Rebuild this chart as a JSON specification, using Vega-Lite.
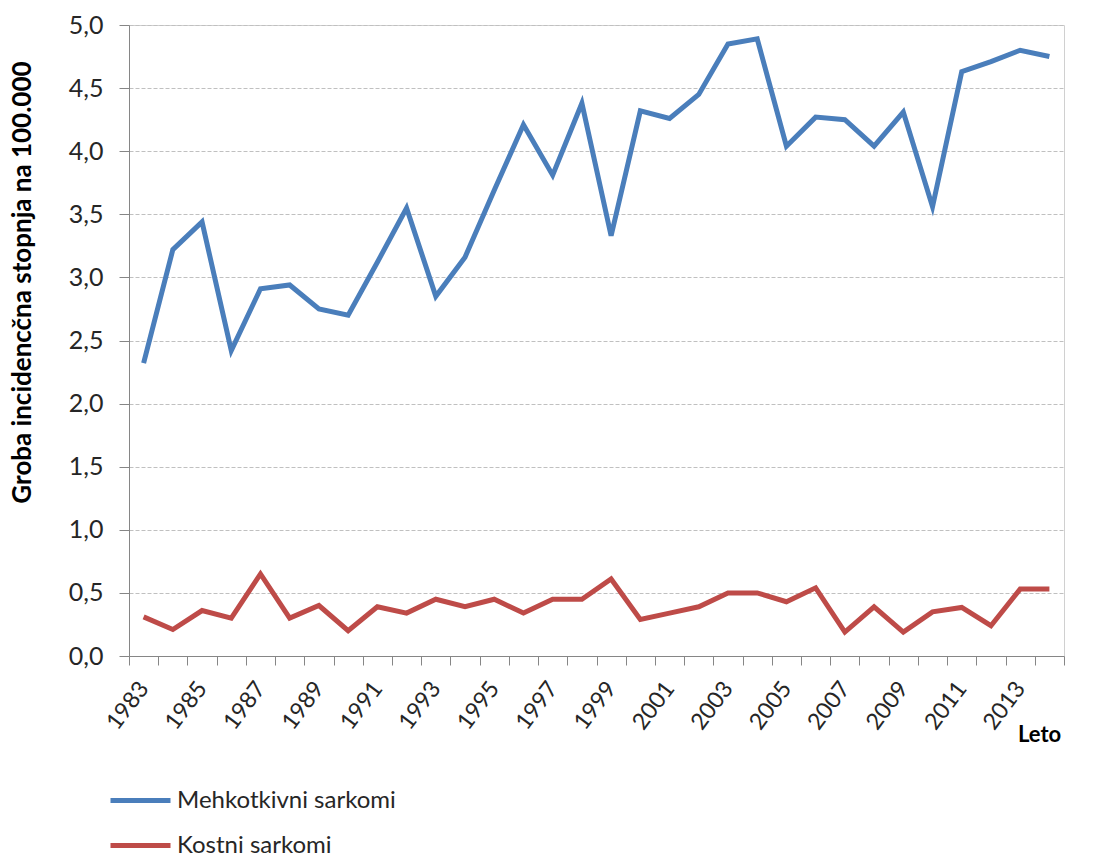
{
  "$schema": "https://vega.github.io/schema/vega-lite/v6.json",
  "width": 935,
  "height": 631,
  "autosize": "none",
  "padding": {"left": 129, "top": 25, "right": 32, "bottom": 200},
  "background": "white",
  "config": {
    "font": "Lato",
    "view": {"stroke": "#d0d0d0", "strokeWidth": 1}
  },
  "data": {
    "values": [
      {"year": 1983, "series": "Mehkotkivni sarkomi", "value": 2.32},
      {"year": 1984, "series": "Mehkotkivni sarkomi", "value": 3.22},
      {"year": 1985, "series": "Mehkotkivni sarkomi", "value": 3.44},
      {"year": 1986, "series": "Mehkotkivni sarkomi", "value": 2.42},
      {"year": 1987, "series": "Mehkotkivni sarkomi", "value": 2.91},
      {"year": 1988, "series": "Mehkotkivni sarkomi", "value": 2.94},
      {"year": 1989, "series": "Mehkotkivni sarkomi", "value": 2.75},
      {"year": 1990, "series": "Mehkotkivni sarkomi", "value": 2.70},
      {"year": 1991, "series": "Mehkotkivni sarkomi", "value": 3.12},
      {"year": 1992, "series": "Mehkotkivni sarkomi", "value": 3.55},
      {"year": 1993, "series": "Mehkotkivni sarkomi", "value": 2.85},
      {"year": 1994, "series": "Mehkotkivni sarkomi", "value": 3.16},
      {"year": 1995, "series": "Mehkotkivni sarkomi", "value": 3.69},
      {"year": 1996, "series": "Mehkotkivni sarkomi", "value": 4.21},
      {"year": 1997, "series": "Mehkotkivni sarkomi", "value": 3.81},
      {"year": 1998, "series": "Mehkotkivni sarkomi", "value": 4.38},
      {"year": 1999, "series": "Mehkotkivni sarkomi", "value": 3.33},
      {"year": 2000, "series": "Mehkotkivni sarkomi", "value": 4.32},
      {"year": 2001, "series": "Mehkotkivni sarkomi", "value": 4.26},
      {"year": 2002, "series": "Mehkotkivni sarkomi", "value": 4.45},
      {"year": 2003, "series": "Mehkotkivni sarkomi", "value": 4.85},
      {"year": 2004, "series": "Mehkotkivni sarkomi", "value": 4.89},
      {"year": 2005, "series": "Mehkotkivni sarkomi", "value": 4.04},
      {"year": 2006, "series": "Mehkotkivni sarkomi", "value": 4.27},
      {"year": 2007, "series": "Mehkotkivni sarkomi", "value": 4.25},
      {"year": 2008, "series": "Mehkotkivni sarkomi", "value": 4.04},
      {"year": 2009, "series": "Mehkotkivni sarkomi", "value": 4.31},
      {"year": 2010, "series": "Mehkotkivni sarkomi", "value": 3.56},
      {"year": 2011, "series": "Mehkotkivni sarkomi", "value": 4.63},
      {"year": 2012, "series": "Mehkotkivni sarkomi", "value": 4.71},
      {"year": 2013, "series": "Mehkotkivni sarkomi", "value": 4.80},
      {"year": 2014, "series": "Mehkotkivni sarkomi", "value": 4.75},
      {"year": 1983, "series": "Kostni sarkomi", "value": 0.31},
      {"year": 1984, "series": "Kostni sarkomi", "value": 0.21},
      {"year": 1985, "series": "Kostni sarkomi", "value": 0.36},
      {"year": 1986, "series": "Kostni sarkomi", "value": 0.30},
      {"year": 1987, "series": "Kostni sarkomi", "value": 0.65},
      {"year": 1988, "series": "Kostni sarkomi", "value": 0.30},
      {"year": 1989, "series": "Kostni sarkomi", "value": 0.40},
      {"year": 1990, "series": "Kostni sarkomi", "value": 0.20},
      {"year": 1991, "series": "Kostni sarkomi", "value": 0.39},
      {"year": 1992, "series": "Kostni sarkomi", "value": 0.34},
      {"year": 1993, "series": "Kostni sarkomi", "value": 0.45},
      {"year": 1994, "series": "Kostni sarkomi", "value": 0.39},
      {"year": 1995, "series": "Kostni sarkomi", "value": 0.45},
      {"year": 1996, "series": "Kostni sarkomi", "value": 0.34},
      {"year": 1997, "series": "Kostni sarkomi", "value": 0.45},
      {"year": 1998, "series": "Kostni sarkomi", "value": 0.45},
      {"year": 1999, "series": "Kostni sarkomi", "value": 0.61},
      {"year": 2000, "series": "Kostni sarkomi", "value": 0.29},
      {"year": 2001, "series": "Kostni sarkomi", "value": 0.34},
      {"year": 2002, "series": "Kostni sarkomi", "value": 0.39},
      {"year": 2003, "series": "Kostni sarkomi", "value": 0.50},
      {"year": 2004, "series": "Kostni sarkomi", "value": 0.50},
      {"year": 2005, "series": "Kostni sarkomi", "value": 0.43},
      {"year": 2006, "series": "Kostni sarkomi", "value": 0.54},
      {"year": 2007, "series": "Kostni sarkomi", "value": 0.19},
      {"year": 2008, "series": "Kostni sarkomi", "value": 0.39},
      {"year": 2009, "series": "Kostni sarkomi", "value": 0.19},
      {"year": 2010, "series": "Kostni sarkomi", "value": 0.35},
      {"year": 2011, "series": "Kostni sarkomi", "value": 0.385},
      {"year": 2012, "series": "Kostni sarkomi", "value": 0.24},
      {"year": 2013, "series": "Kostni sarkomi", "value": 0.53},
      {"year": 2014, "series": "Kostni sarkomi", "value": 0.53}
    ]
  },
  "mark": {"type": "line", "strokeWidth": 5, "strokeJoin": "miter", "strokeCap": "butt"},
  "encoding": {
    "x": {
      "field": "year",
      "type": "ordinal",
      "bandPosition": 0.5,
      "scale": {"type": "band", "paddingInner": 0, "paddingOuter": 0},
      "axis": {
        "title": "Leto",
        "titleFontSize": 22,
        "titleFontWeight": "bold",
        "titleColor": "#000000",
        "titleX": 910,
        "titleY": 78,
        "titleAlign": "center",
        "titleBaseline": "middle",
        "tickBand": "extent",
        "tickSize": 9,
        "tickColor": "#868686",
        "domainColor": "#868686",
        "labelAngle": -53,
        "labelAlign": "right",
        "labelBaseline": "middle",
        "labelFontSize": 23,
        "labelColor": "#262626",
        "labelPadding": 19,
        "labelDx": 5,
        "labelOverlap": false,
        "labelExpr": "datum.value % 2 == 1 ? datum.label : ''",
        "grid": false
      }
    },
    "y": {
      "field": "value",
      "type": "quantitative",
      "scale": {"domain": [0, 5], "nice": false, "zero": true},
      "axis": {
        "title": "Groba incidencčna stopnja na 100.000",
        "titleFontSize": 26,
        "titleFontWeight": "bold",
        "titleColor": "#000000",
        "titleAngle": -90,
        "titleX": -107,
        "titleY": 257,
        "titleAlign": "center",
        "titleBaseline": "middle",
        "values": [0, 0.5, 1, 1.5, 2, 2.5, 3, 3.5, 4, 4.5, 5],
        "labelExpr": "replace(format(datum.value, '.1f'), '.', ',')",
        "labelFontSize": 25,
        "labelColor": "#262626",
        "labelPadding": 16,
        "tickSize": 10,
        "tickColor": "#868686",
        "domainColor": "#868686",
        "gridColor": "#c0c0c0",
        "gridDash": [4, 2],
        "gridWidth": 1
      }
    },
    "color": {
      "field": "series",
      "type": "nominal",
      "scale": {
        "domain": ["Mehkotkivni sarkomi", "Kostni sarkomi"],
        "range": ["#4a7ebb", "#be4b48"]
      },
      "legend": {
        "title": null,
        "orient": "none",
        "legendX": -21,
        "legendY": 743,
        "direction": "vertical",
        "symbolType": "stroke",
        "symbolSize": 3600,
        "symbolStrokeWidth": 5,
        "labelFontSize": 24,
        "labelLimit": 600,
        "labelColor": "#262626",
        "labelOffset": 4,
        "rowPadding": -19
      }
    }
  }
}
